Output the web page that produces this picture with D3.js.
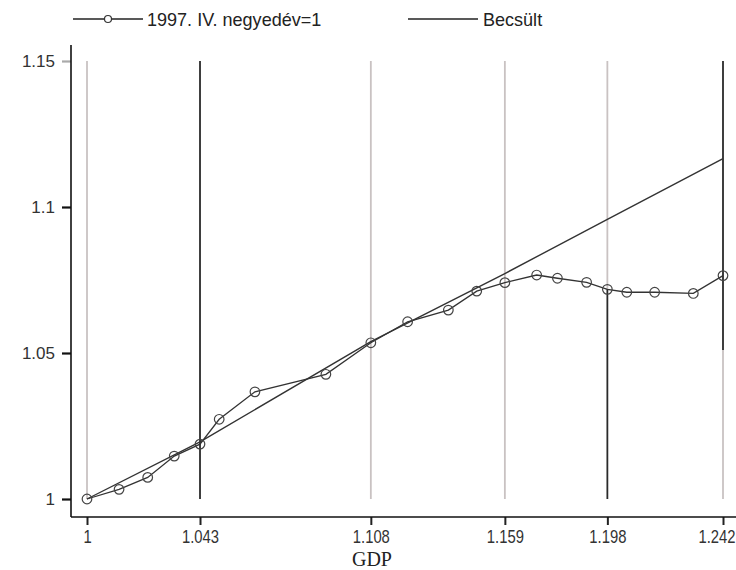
<!DOCTYPE html>
<html><head><meta charset="utf-8">
<script src="https://cdn.jsdelivr.net/npm/d3@7"></script>
<style>body{margin:0;background:#fff}svg{display:block}</style>
</head><body>
<svg id="c" width="736" height="570"></svg>
<script>
// Data
const gdp = [1.000,1.0122,1.0231,1.0332,1.043,1.0503,1.0639,1.0909,1.108,1.1220,1.1375,1.1483,1.159,1.1711,1.1790,1.1901,1.198,1.2054,1.2160,1.2307,1.242];
const index1997 = [1.000,1.0033,1.0074,1.0147,1.0188,1.0273,1.0367,1.0427,1.0535,1.0607,1.0647,1.0712,1.0741,1.0767,1.0756,1.0742,1.0718,1.0708,1.0708,1.0704,1.0765];
const estX = [1.000,1.043,1.108,1.159,1.198,1.242];
const estY = [1.000,1.0196,1.0539,1.0772,1.0958,1.1166];
const xTicks = [1,1.043,1.108,1.159,1.198,1.242];
const xTickLabels = ["1","1.043","1.108","1.159","1.198","1.242"];
const yTicks = [1,1.05,1.1,1.15];
const yTickLabels = ["1","1.05","1.1","1.15"];
const legendLabels = ["1997. IV. negyedév=1","Becsült"];
const xTitle = "GDP";

const svg = d3.select("#c");
const x = d3.scaleLinear().domain([1,1.242]).range([87,723]);
const y = d3.scaleLinear().domain([1,1.15]).range([499,61]);
const GRAY = "#c9c2c2", DARK = "#2a2a2a";
const SANS = "'Liberation Sans',Arial,sans-serif";

// vertical reference lines
const refDark = {1.043:"all", 1.198:"below", 1.242:"above"};
const refSplitY = {1.198:1.0718, 1.242:1.051};
xTicks.forEach(v=>{
  const mode = refDark[v];
  const segs = [];
  if (!mode) segs.push([1.15,1,GRAY]);
  else if (mode==="all") segs.push([1.15,1,DARK]);
  else if (mode==="below") { segs.push([1.15,refSplitY[v],GRAY]); segs.push([refSplitY[v],1,DARK]); }
  else { segs.push([1.15,refSplitY[v],DARK]); segs.push([refSplitY[v],1,GRAY]); }
  segs.forEach(s=>svg.append("line").attr("x1",x(v)).attr("x2",x(v))
    .attr("y1",y(s[0])).attr("y2",y(s[1])).attr("stroke",s[2]).attr("stroke-width",1.8));
});

// axes
const yAxis = d3.axisLeft(y).tickValues(yTicks).tickSize(9).tickPadding(7)
  .tickFormat((d,i)=>yTickLabels[i]);
const gy = svg.append("g").attr("transform","translate(71,0)").call(yAxis);
gy.select(".domain").remove();
gy.selectAll(".tick line").attr("stroke",(d)=>d===1.15?"#aaa":"#111").attr("stroke-width",2.2);
gy.selectAll(".tick text").attr("font-family",SANS).attr("font-size",17).attr("fill","#333");
svg.append("line").attr("x1",71).attr("x2",71).attr("y1",45).attr("y2",517).attr("stroke","#111").attr("stroke-width",1.6);

const xAxis = d3.axisBottom(x).tickValues(xTicks).tickSize(8).tickPadding(5)
  .tickFormat((d,i)=>xTickLabels[i]);
const gx = svg.append("g").attr("transform","translate(0,517)").call(xAxis);
gx.select(".domain").remove();
gx.selectAll(".tick line").attr("stroke","#222").attr("stroke-width",2);
gx.selectAll(".tick text").attr("font-family",SANS).attr("font-size",18.5).attr("fill","#333")
  .attr("transform","scale(0.8,1)");
gx.selectAll(".tick text").filter((d,i)=>i===xTicks.length-1)
  .attr("text-anchor","end").attr("x",12/0.8);
svg.append("line").attr("x1",71).attr("x2",736).attr("y1",517).attr("y2",517).attr("stroke","#111").attr("stroke-width",1.6);

svg.append("text").attr("x",372).attr("y",566).attr("text-anchor","middle")
  .attr("font-family","'Liberation Serif','Times New Roman',serif").attr("font-size",20).attr("fill","#222").text(xTitle);

// estimated line
const line = d3.line().x(d=>x(d[0])).y(d=>y(d[1]));
svg.append("path").datum(estX.map((v,i)=>[v,estY[i]])).attr("d",line)
  .attr("fill","none").attr("stroke","#333").attr("stroke-width",1.4);

// data line
const pts = gdp.map((v,i)=>[v,index1997[i]]);
svg.append("path").datum(pts).attr("d",line).attr("fill","none").attr("stroke","#333").attr("stroke-width",1.3);
svg.selectAll("circle.p").data(pts).join("circle").attr("class","p")
  .attr("cx",d=>x(d[0])).attr("cy",d=>y(d[1])).attr("r",4.8)
  .attr("fill","none").attr("stroke","#444").attr("stroke-width",1.2);

// legend
const ly = 19;
const lg = svg.append("g").attr("font-family",SANS).attr("font-size",19).attr("fill","#222");
lg.append("line").attr("x1",73).attr("x2",143).attr("y1",ly).attr("y2",ly).attr("stroke","#222").attr("stroke-width",1.4);
lg.append("circle").attr("cx",108).attr("cy",ly).attr("r",3.5).attr("fill","#fff").attr("stroke","#333").attr("stroke-width",1.2);
lg.append("text").attr("x",147).attr("y",ly).attr("dy","0.35em").attr("transform",`translate(147,0) scale(0.95,1) translate(-147,0)`).text(legendLabels[0]);
lg.append("line").attr("x1",408).attr("x2",478).attr("y1",ly).attr("y2",ly).attr("stroke","#222").attr("stroke-width",1.4);
lg.append("text").attr("x",483).attr("y",ly).attr("dy","0.35em").attr("transform",`translate(483,0) scale(0.95,1) translate(-483,0)`).text(legendLabels[1]);
</script>
</body></html>
